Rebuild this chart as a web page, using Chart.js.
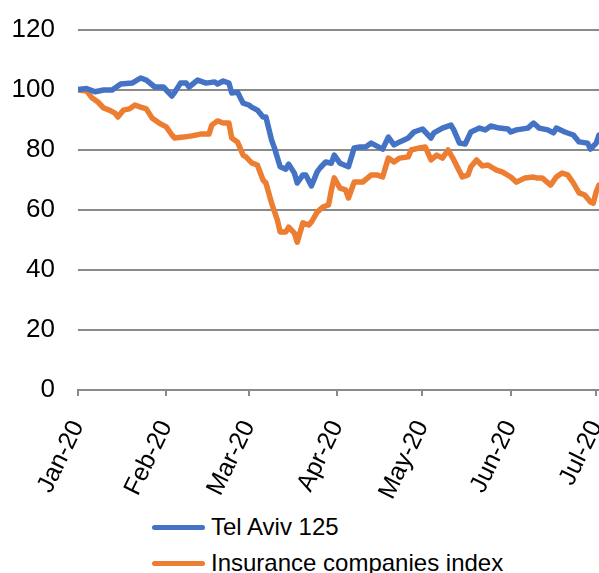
<!DOCTYPE html>
<html>
<head>
<meta charset="utf-8">
<script src="https://cdn.jsdelivr.net/npm/chart.js@4/dist/chart.umd.min.js"></script>
<style>
  html, body { margin: 0; padding: 0; background: #fff; overflow: hidden; }
  #wrap { position: absolute; left: 0; top: 0; width: 599px; height: 573px; overflow: hidden; }
  #chart { position: absolute; left: 0; top: 0; }
  .legend-row { position: absolute; left: 152px; height: 30px; display: flex; align-items: center;
    font: 24px "Liberation Sans", Arial, sans-serif; color: #000; white-space: nowrap; }
  .legend-line { width: 53px; height: 5px; border-radius: 3px; margin-right: 6px; }
</style>
</head>
<body>
<div id="wrap">
  <canvas id="chart" width="660" height="500"></canvas>
  <div id="legend"></div>
</div>
<script>
// trading days are stored as days since 1 Jan 2020
const monthTicks = [0, 31, 60, 91, 121, 152, 182];
const monthLabels = ['Jan-20', 'Feb-20', 'Mar-20', 'Apr-20', 'May-20', 'Jun-20', 'Jul-20'];

const telAvivDays = [0, 3, 6, 9, 12, 15, 19, 22, 24, 27, 30, 31, 33, 34, 36, 38, 39, 42, 45, 48, 49, 51, 53,
  54, 56, 58, 60, 61, 63, 65, 66, 68, 69, 71, 73, 74, 76, 77, 79, 80, 82, 84, 85, 87, 89, 90, 92, 95,
  97, 99, 101, 103, 105, 107, 109, 111, 113, 116, 118, 121, 124, 125, 128, 131, 132, 134, 136, 138,
  141, 143, 145, 148, 151, 152, 154, 158, 160, 162, 165, 167, 168, 171, 174, 176, 179, 180, 182, 183];
const telAviv = [100.2, 100.5, 99.4, 100, 100, 102, 102.3, 104, 103.3, 101, 101, 100, 98, 99.3, 102.3,
  102.3, 101, 103.3, 102.3, 102.7, 102, 103, 102.3, 99, 99.3, 95.6, 95, 94.3, 93.3, 91, 91, 83.3, 80.7,
  74.4, 73.6, 75.3, 72.3, 69, 71.7, 71.7, 68, 72.7, 74, 76, 75.6, 78.3, 75.6, 74.4, 80.7, 81, 81, 82.3,
  81.3, 80.3, 84.3, 81.7, 82.7, 84, 86, 87, 84, 85.7, 87.3, 88.3, 86.7, 82.3, 82, 86, 87.3, 86.7, 88,
  87.3, 87, 86, 86.7, 87.3, 89, 87.3, 86.7, 85.7, 87.3, 86, 85, 82.7, 82.3, 80.3, 82.3, 85];

const insuranceDays = [0, 3, 5, 7, 9, 11, 13, 14, 16, 18, 20, 22, 24, 26, 29, 31, 33, 34, 37, 40, 43, 46,
  47, 49, 51, 53, 54, 56, 58, 59, 61, 63, 65, 66, 68, 70, 71, 73, 74, 76, 77, 79, 81, 82, 84, 86, 88,
  89, 90, 92, 94, 95, 97, 100, 103, 105, 107, 109, 111, 113, 116, 117, 120, 122, 124, 126, 128, 130,
  132, 135, 137, 138, 140, 142, 144, 147, 149, 152, 154, 157, 160, 161, 163, 166, 168, 170, 172, 174,
  176, 178, 180, 181, 182, 183];
const insurance = [100, 99.7, 97.3, 96, 94, 93.3, 92.3, 91, 93.3, 93.7, 95, 94.3, 93.7, 90.7, 88.7, 87.7,
  85, 84, 84.3, 84.7, 85.3, 85.3, 88.3, 89.7, 89, 89, 84, 82.7, 78.3, 77.7, 75.7, 75, 70, 69, 62.3, 56.7,
  52.7, 52.7, 54.3, 52.3, 49.3, 55.7, 55, 56, 59.3, 61, 61.7, 66.7, 70.7, 67.3, 66.7, 64, 69.3, 69.3,
  71.7, 71.7, 71, 77.3, 76, 77.3, 77.7, 80, 80.7, 81, 76.7, 78.3, 77.3, 80, 76.7, 71, 71.7, 74.4, 76.7,
  74.7, 75, 73.3, 72.7, 71, 69.3, 70.7, 71, 70.7, 70.7, 68.3, 71, 72.3, 71.7, 69, 65.7, 65, 62.7, 62.3,
  66, 68.3];

const FONT = '"Liberation Sans", Arial, sans-serif';
const GRID = '#8a8a8a';

function toPoints(days, values) {
  return days.map((d, i) => ({ x: d, y: values[i] }));
}

const chart = new Chart(document.getElementById('chart'), {
  type: 'line',
  data: {
    datasets: [
      { label: 'Tel Aviv 125', data: toPoints(telAvivDays, telAviv), borderColor: '#4472C4' },
      { label: 'Insurance companies index', data: toPoints(insuranceDays, insurance), borderColor: '#ED7D31' }
    ]
  },
  options: {
    responsive: false,
    animation: false,
    devicePixelRatio: 1,
    layout: { padding: { top: 30, right: 61, left: 0, bottom: 0 } },
    elements: {
      line: { borderWidth: 5.5, tension: 0, borderJoinStyle: 'round', borderCapStyle: 'round' },
      point: { radius: 0 }
    },
    plugins: { legend: { display: false }, tooltip: { enabled: false } },
    scales: {
      x: {
        type: 'linear',
        min: 0,
        max: 183,
        afterFit: (scale) => { scale.height = 110; },
        afterBuildTicks: (scale) => { scale.ticks = monthTicks.map(v => ({ value: v })); },
        grid: { drawOnChartArea: false, drawTicks: true, tickLength: 6, color: GRID, lineWidth: 2 },
        border: { display: true, color: GRID, width: 2 },
        ticks: {
          autoSkip: false,
          minRotation: 64,
          maxRotation: 64,
          padding: 20,
          color: '#000',
          font: { family: FONT, size: 25 },
          callback: (v) => monthLabels[monthTicks.indexOf(v)]
        }
      },
      y: {
        min: 0,
        max: 120,
        afterFit: (scale) => {
          scale.width = 78;
          // the tick padding would otherwise push the plot top down
          scale.paddingTop = 0;
          scale.paddingBottom = 0;
        },
        grid: { color: GRID, lineWidth: 2, drawTicks: false },
        border: { display: false },
        ticks: { stepSize: 20, padding: 23, color: '#000', font: { family: FONT, size: 26 } }
      }
    }
  }
});

// legend stacked under the plot
const legend = document.getElementById('legend');
chart.data.datasets.forEach((ds, i) => {
  const row = document.createElement('div');
  row.className = 'legend-row';
  row.style.top = (512 + i * 36) + 'px';
  const line = document.createElement('span');
  line.className = 'legend-line';
  line.style.background = ds.borderColor;
  row.appendChild(line);
  row.appendChild(document.createTextNode(ds.label));
  legend.appendChild(row);
});
</script>
</body>
</html>
